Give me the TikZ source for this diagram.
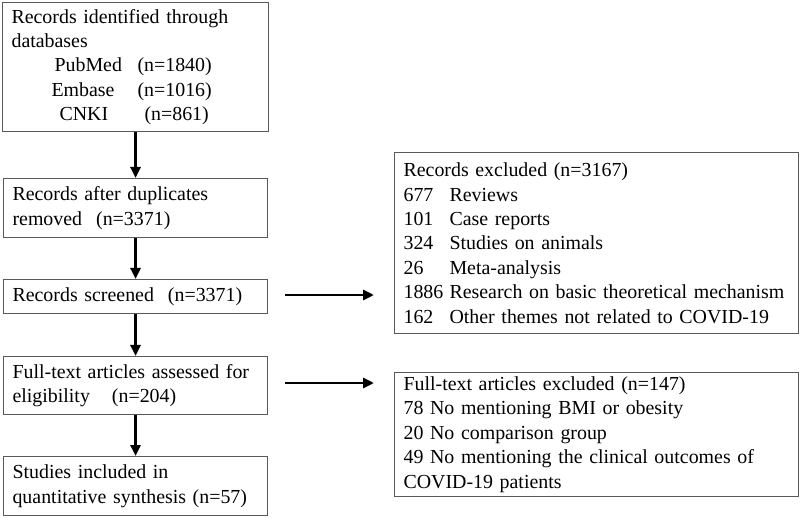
\documentclass[tikz,border=0pt]{standalone}
\usepackage{fontspec}
\setmainfont{Liberation Serif}
\usetikzlibrary{arrows.meta}
\begin{document}
\begin{tikzpicture}[x=1pt,y=-1pt,
  box/.style={draw=black!65, line width=1.1pt, anchor=north west, inner xsep=9pt, inner ysep=0pt,
    align=left, font=\fontsize{19.9}{24.4}\selectfont},
  arr/.style={-{Triangle[length=11pt,width=10pt]}, line width=2.8pt}]
\useasboundingbox (0,0) rectangle (800,518);
\node[box, minimum width=266pt, minimum height=129pt, text width=248pt] (b1) at (2,2)
  {Records identified through\\databases\\
   \hspace*{43pt}\makebox[83pt][l]{PubMed}(n=1840)\\
   \hspace*{40pt}\makebox[86pt][l]{Embase}(n=1016)\\
   \hspace*{48pt}\makebox[85pt][l]{CNKI}(n=861)};
\node[box, minimum width=264pt, minimum height=59pt, text width=246pt] (b2) at (3,178)
  {Records after duplicates\\removed\hspace{14pt}(n=3371)};
\node[box, minimum width=264pt, minimum height=34pt, text width=246pt] (b3) at (3,279)
  {Records screened\hspace{14pt}(n=3371)};
\node[box, minimum width=264pt, minimum height=58pt, text width=246pt] (b4) at (3,356)
  {Full-text articles assessed for\\eligibility\hspace{22pt}(n=204)};
\node[box, minimum width=264pt, minimum height=59pt, text width=246pt] (b5) at (3,456)
  {Studies included in\\quantitative synthesis (n=57)};
\node[box, minimum width=404pt, minimum height=181pt, text width=386pt] (r1) at (394,152)
  {Records excluded (n=3167)\\
   \makebox[46pt][l]{677}Reviews\\
   \makebox[46pt][l]{101}Case reports\\
   \makebox[46pt][l]{324}Studies on animals\\
   \makebox[46pt][l]{26}Meta-analysis\\
   \makebox[46pt][l]{1886}Research on basic theoretical mechanism\\
   \makebox[46pt][l]{162}Other themes not related to COVID-19};
\node[box, minimum width=404pt, minimum height=124pt, text width=386pt] (r2) at (394,372)
  {Full-text articles excluded (n=147)\\
   78 No mentioning BMI or obesity\\
   20 No comparison group\\
   49 No mentioning the clinical outcomes of\\
   COVID-19 patients};
\coordinate (h1s) at (285,295);
\coordinate (h1e) at (374,295);
\coordinate (h2s) at (285,383);
\coordinate (h2e) at (374,383);
\draw[arr] (b1.south) -- (b2.north);
\draw[arr] (b2.south) -- (b3.north);
\draw[arr] (b3.south) -- (b4.north);
\draw[arr] (b4.south) -- (b5.north);
\draw[arr] (h1s) -- (h1e);
\draw[arr] (h2s) -- (h2e);
\end{tikzpicture}
\end{document}
